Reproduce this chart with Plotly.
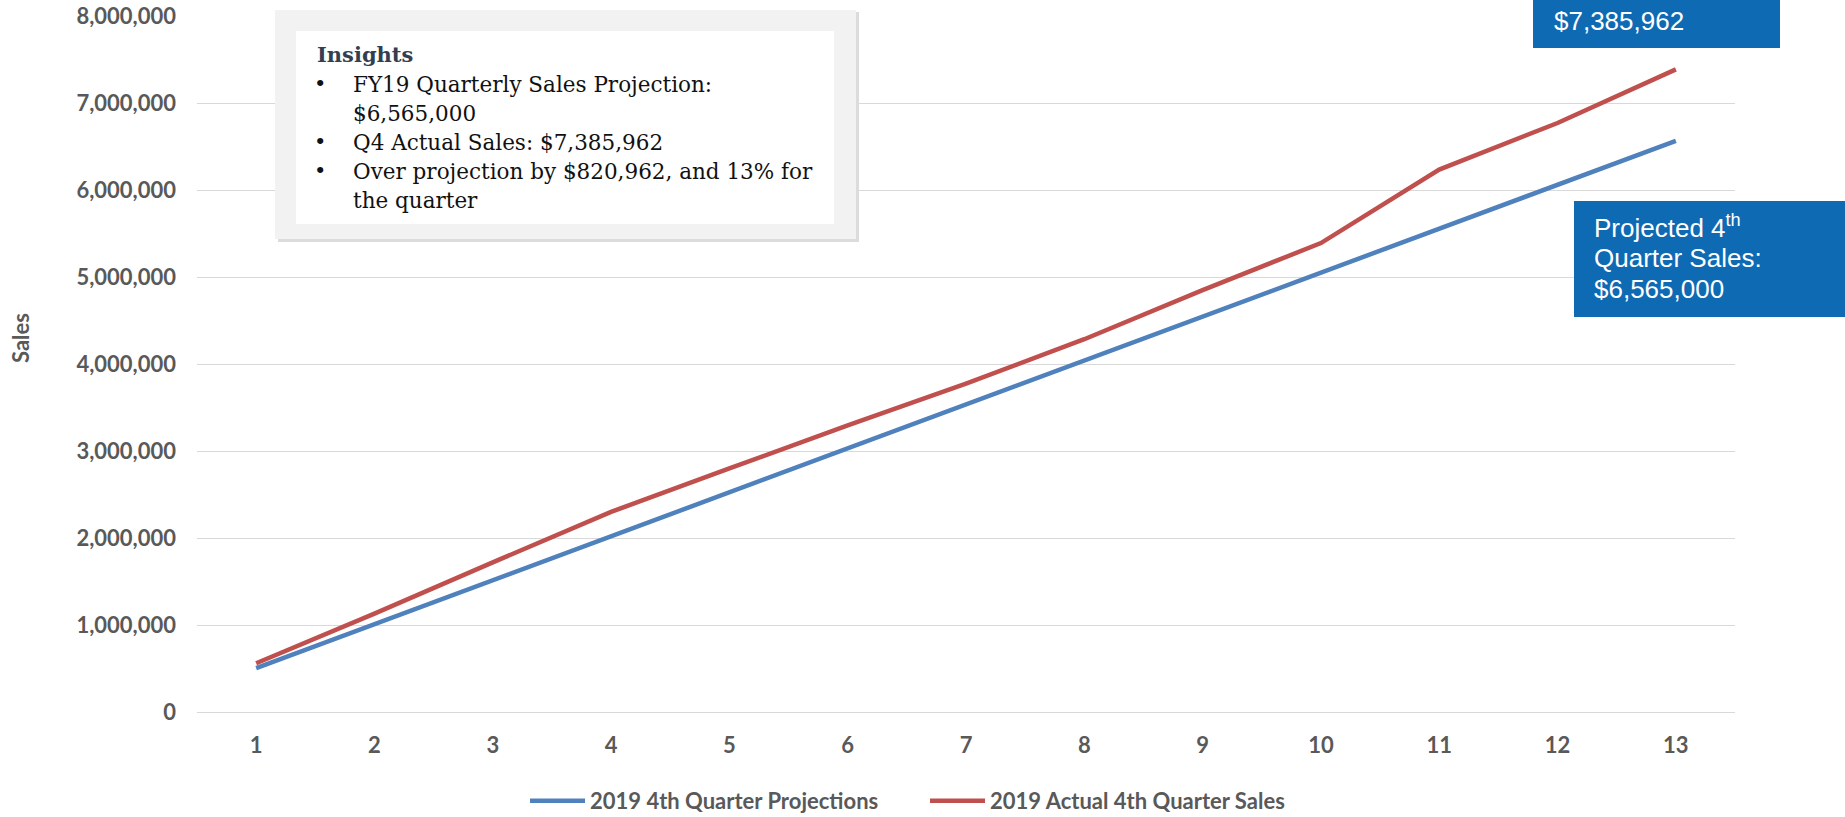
import plotly.graph_objects as go

# ---------------- data ----------------
categories = [1, 2, 3, 4, 5, 6, 7, 8, 9, 10, 11, 12, 13]
projections = [505000, 1010000, 1515000, 2020000, 2525000, 3030000, 3535000,
               4040000, 4545000, 5050000, 5555000, 6060000, 6565000]
actual = [560000, 1130000, 1720000, 2300000, 2800000, 3295000, 3775000,
          4285000, 4850000, 5390000, 6235000, 6770000, 7385962]
series_names = ["2019 4th Quarter Projections", "2019 Actual 4th Quarter Sales"]
y_tickvals = [0, 1000000, 2000000, 3000000, 4000000, 5000000, 6000000, 7000000, 8000000]
y_ticktext = ["0", "1,000,000", "2,000,000", "3,000,000", "4,000,000",
              "5,000,000", "6,000,000", "7,000,000", "8,000,000"]
y_title = "Sales"
insights_title = "Insights"
insights_lines = [
    ("•", "FY19 Quarterly Sales Projection:"),
    ("", "$6,565,000"),
    ("•", "Q4 Actual Sales: $7,385,962"),
    ("•", "Over projection by $820,962, and 13% for"),
    ("", "the quarter"),
]
callout_actual = ["$7,385,962"]
callout_proj = ["Projected 4<sup>th</sup>", "Quarter Sales:", "$6,565,000"]

# ---------------- layout geometry (pixels) ----------------
W, H = 1845, 817
L, R, T, B = 197, 1735, 16, 712
PW, PH = R - L, B - T


def px(x):
    return (x - L) / PW


def py(y):
    return (B - y) / PH


BLUE = "#4F81BD"
RED = "#C0504D"
GRAY_TXT = "#595959"
CALLOUT = "#0F6AB4"

fig = go.Figure()
for name, vals, color in [(series_names[0], projections, BLUE),
                          (series_names[1], actual, RED)]:
    fig.add_trace(go.Scatter(x=categories, y=vals, mode="lines", name=name,
                             line=dict(color=color, width=4.5)))

tick_font = dict(family="Lato", size=22, color=GRAY_TXT, weight=700)

fig.update_layout(
    width=W, height=H,
    margin=dict(l=L, r=W - R, t=T, b=H - B, pad=0, autoexpand=False),
    paper_bgcolor="white", plot_bgcolor="white",
    showlegend=True,
    legend=dict(orientation="h", x=px(525), xanchor="left", y=py(801),
                yanchor="middle", font=tick_font, itemwidth=55,
                entrywidth=330, entrywidthmode="pixels",
                bgcolor="rgba(0,0,0,0)"),
    xaxis=dict(type="category", range=[-0.5, 12.5], showgrid=False,
               showline=False, zeroline=False, ticks="", automargin=False,
               tickfont=tick_font, ticklabelstandoff=18),
    yaxis=dict(range=[0, 8000000.5], tickvals=y_tickvals, ticktext=y_ticktext,
               showgrid=True, gridcolor="#D9D9D9", gridwidth=1.3,
               zeroline=True, zerolinecolor="#D9D9D9", zerolinewidth=1.3,
               showline=False, ticks="", tickfont=tick_font, automargin=False,
               ticklabelstandoff=20),
)

shapes = []
annots = []

# Insights box: shadow, outer gray, inner white
shapes.append(dict(type="rect", xref="paper", yref="paper", layer="above",
                   x0=px(278), x1=px(859), y0=py(12), y1=py(242),
                   fillcolor="#DCDCDC", line=dict(width=0)))
shapes.append(dict(type="rect", xref="paper", yref="paper", layer="above",
                   x0=px(275), x1=px(856), y0=py(10), y1=py(239),
                   fillcolor="#F2F2F2", line=dict(width=0)))
shapes.append(dict(type="rect", xref="paper", yref="paper", layer="above",
                   x0=px(296), x1=px(834), y0=py(31), y1=py(224),
                   fillcolor="#FFFFFF", line=dict(width=0)))

serif = "DejaVu Serif"
annots.append(dict(xref="paper", yref="paper", x=px(315), y=py(55),
                   xanchor="left", yanchor="middle", showarrow=False,
                   text="<b>" + insights_title + "</b>",
                   font=dict(family=serif, size=21, color="#333F50")))
line_ys = [84, 113, 142, 171, 200]
for (bullet, txt), yy in zip(insights_lines, line_ys):
    if bullet:
        annots.append(dict(xref="paper", yref="paper", x=px(320), y=py(yy),
                           xanchor="center", yanchor="middle", showarrow=False,
                           text=bullet,
                           font=dict(family=serif, size=21, color="#111111")))
    annots.append(dict(xref="paper", yref="paper", x=px(351), y=py(yy),
                       xanchor="left", yanchor="middle", showarrow=False,
                       text=txt,
                       font=dict(family=serif, size=21.5, color="#111111")))

# Callout boxes
shapes.append(dict(type="rect", xref="paper", yref="paper", layer="above",
                   x0=px(1533), x1=px(1780), y0=py(-20), y1=py(48),
                   fillcolor=CALLOUT, line=dict(width=0)))
shapes.append(dict(type="rect", xref="paper", yref="paper", layer="above",
                   x0=px(1574), x1=px(1860), y0=py(201), y1=py(317),
                   fillcolor=CALLOUT, line=dict(width=0)))
sans = "Liberation Sans"
for txt, yy in zip(callout_actual, [21]):
    annots.append(dict(xref="paper", yref="paper", x=px(1552), y=py(yy),
                       xanchor="left", yanchor="middle", showarrow=False,
                       text=txt, font=dict(family=sans, size=26, color="white")))
for txt, yy in zip(callout_proj, [227, 258, 289]):
    annots.append(dict(xref="paper", yref="paper", x=px(1592), y=py(yy),
                       xanchor="left", yanchor="middle", showarrow=False,
                       text=txt, font=dict(family=sans, size=26, color="white")))

# Y axis title
annots.append(dict(xref="paper", yref="paper", x=px(20), y=py(338),
                   xanchor="center", yanchor="middle", showarrow=False,
                   text=y_title, textangle=-90, font=tick_font))

fig.update_layout(shapes=shapes, annotations=annots)
fig.write_html("out.html")
